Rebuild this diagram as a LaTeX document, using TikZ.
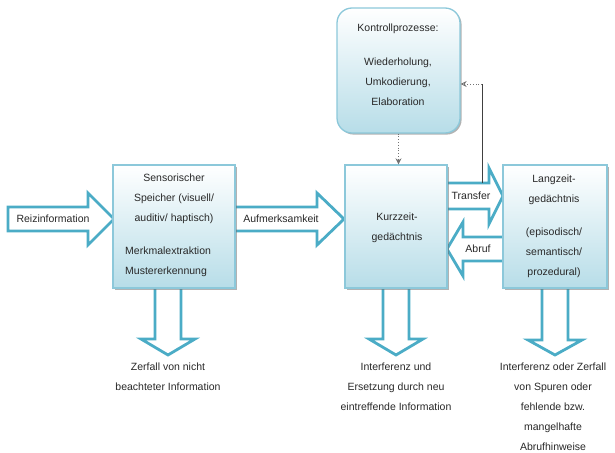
\documentclass[tikz,border=0pt]{standalone}
\usepackage{fontspec}
\setmainfont{Liberation Sans}
\usetikzlibrary{shadows,calc,arrows.meta}
\definecolor{aqua}{RGB}{75,172,198}
\definecolor{boxbot}{RGB}{183,221,232}
\definecolor{boxline}{RGB}{140,200,218}
\definecolor{txt}{RGB}{40,40,40}
\begin{document}
\begin{tikzpicture}[x=1pt,y=-1pt,
  font=\fontsize{10.5}{20}\selectfont,
  box/.style={draw=boxline, line width=1.3pt, top color=white, bottom color=boxbot,
    drop shadow={shadow xshift=1.6pt, shadow yshift=-1.6pt, fill=black!55, opacity=.55},
    inner sep=0pt},
  barrow/.style={draw=aqua, line width=2.8pt, fill=white, line join=miter},
  lbl/.style={text=txt, inner sep=0pt, align=center, anchor=north},
  lbll/.style={text=txt, inner sep=0pt, align=left, anchor=north west},
  thinarrow/.style={draw=black!55, line width=0.8pt, dotted}]
\useasboundingbox (0,0) rectangle (615,452);

% ---- boxes (named first, drawn on background later via order) ----
\path (174,226.5) coordinate (sensc);
% block arrows
\draw[barrow] (8,207) -- (88,207) -- (88,193) -- (114,219) -- (88,245) -- (88,231) -- (8,231) -- cycle;
\draw[barrow] (230,207) -- (317,207) -- (317,193) -- (344,219) -- (317,245) -- (317,231) -- (230,231) -- cycle;
\draw[barrow] (440,183) -- (489,183) -- (489,168) -- (503,196) -- (489,224) -- (489,209) -- (440,209) -- cycle;
\draw[barrow] (510,237) -- (463,237) -- (463,222) -- (447,249) -- (463,276) -- (463,261) -- (510,261) -- cycle;
% down arrows
\draw[barrow] (155,280) -- (155,339) -- (141,339) -- (168,355) -- (195,339) -- (181,339) -- (181,280) -- cycle;
\draw[barrow] (383,280) -- (383,339) -- (369,339) -- (396,355) -- (423,339) -- (409,339) -- (409,280) -- cycle;
\draw[barrow] (542,280) -- (542,340) -- (528,340) -- (555,355) -- (582,340) -- (568,340) -- (568,280) -- cycle;

\node[box, minimum width=122pt, minimum height=123pt] (sens) at (174,226.5) {};
\node[box, rounded corners=15pt, minimum width=123pt, minimum height=125pt] (kp) at (398.5,70.5) {};
\node[box, minimum width=102pt, minimum height=123pt] (kz) at (396,226.5) {};
\node[box, minimum width=104pt, minimum height=123pt] (lz) at (555,226.5) {};

% connectors
\coordinate (fb) at (482,183);
\coordinate (fbc) at (482,84);
\draw[draw=black!75, line width=0.8pt] (fb) -- (fbc);
\draw[thinarrow, -{Stealth[length=6pt,width=6pt,open]}] (fbc) -- (kp.east |- fbc);
\draw[thinarrow, -{Stealth[length=6pt,width=6pt,fill=black!55]}] (kp.south) -- (kp.south |- kz.north);

% arrow labels
\node[text=txt, inner sep=0pt] (l1) at (53,219) {Reizinformation};
\node[text=txt, inner sep=0pt] (l2) at (281,219) {Aufmerksamkeit};
\node[text=txt, inner sep=0pt] (l3) at (471,196) {Transfer};
\node[text=txt, inner sep=0pt] (l4) at (478,249) {Abruf};

% box texts
\node[lbl] (t1) at (174,174) {Sensorischer\\Speicher (visuell/\\auditiv/ haptisch)};
\node[lbll] (t2) at (125,247) {Merkmalextraktion\\Mustererkennung};
\node[lbl] (t3) at (398,24) {Kontrollprozesse:};
\node[lbl] (t4) at (398,58) {Wiederholung,\\Umkodierung,\\Elaboration};
\node[lbl] (t5) at (397,213) {Kurzzeit-\\gedächtnis};
\node[lbl] (t6) at (554,175) {Langzeit-\\gedächtnis};
\node[lbl] (t7) at (554,228) {(episodisch/\\semantisch/\\prozedural)};

% bottom texts
\node[lbl] (b1) at (168,363) {Zerfall von nicht\\beachteter Information};
\node[lbl] (b2) at (396,363) {Interferenz und\\Ersetzung durch neu\\eintreffende Information};
\node[lbl] (b3) at (553,363) {Interferenz oder Zerfall\\von Spuren oder\\fehlende bzw.\\mangelhafte\\Abrufhinweise};
\end{tikzpicture}
\end{document}
